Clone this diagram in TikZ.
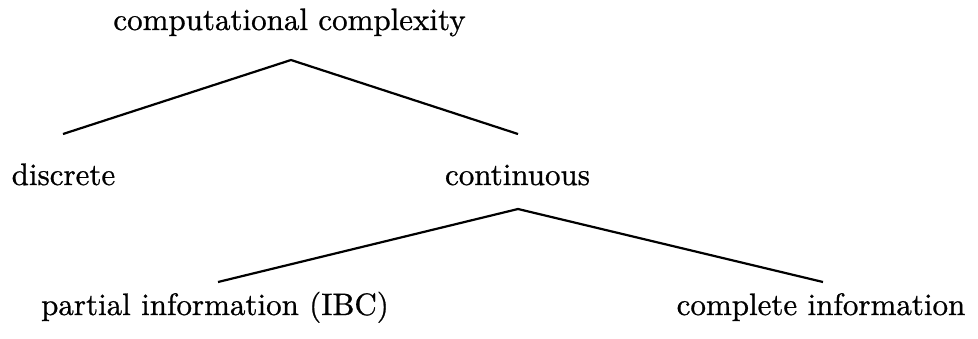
\documentclass[tikz,border=0pt]{standalone}
\usepackage{fontspec}
\setmainfont{lmroman10-regular}[Extension=.otf,FakeBold=0.8]
\begin{document}
\begin{tikzpicture}[x=1pt,y=-1pt,
  lbl/.style={anchor=base,inner sep=0pt,font=\fontsize{31}{37}\selectfont},
  branch/.style={line width=2.2pt,line join=miter}]
\useasboundingbox (0,0) rectangle (978,338);
\node[lbl] (cc) at (289.5,30) {computational complexity};
\node[lbl] (disc) at (63.5,185) {discrete};
\node[lbl] (cont) at (517.5,185) {continuous};
\node[lbl] (pi) at (215,315) {partial information (IBC)};
\node[lbl] (ci) at (821,315) {complete information};
\coordinate (a1) at (291,60);
\coordinate (l1) at (63,134);
\coordinate (r1) at (518,134);
\coordinate (a2) at (518,209);
\coordinate (l2) at (218,282);
\coordinate (r2) at (823,282);
\draw[branch] (l1) -- (a1) -- (r1);
\draw[branch] (l2) -- (a2) -- (r2);
\end{tikzpicture}
\end{document}
